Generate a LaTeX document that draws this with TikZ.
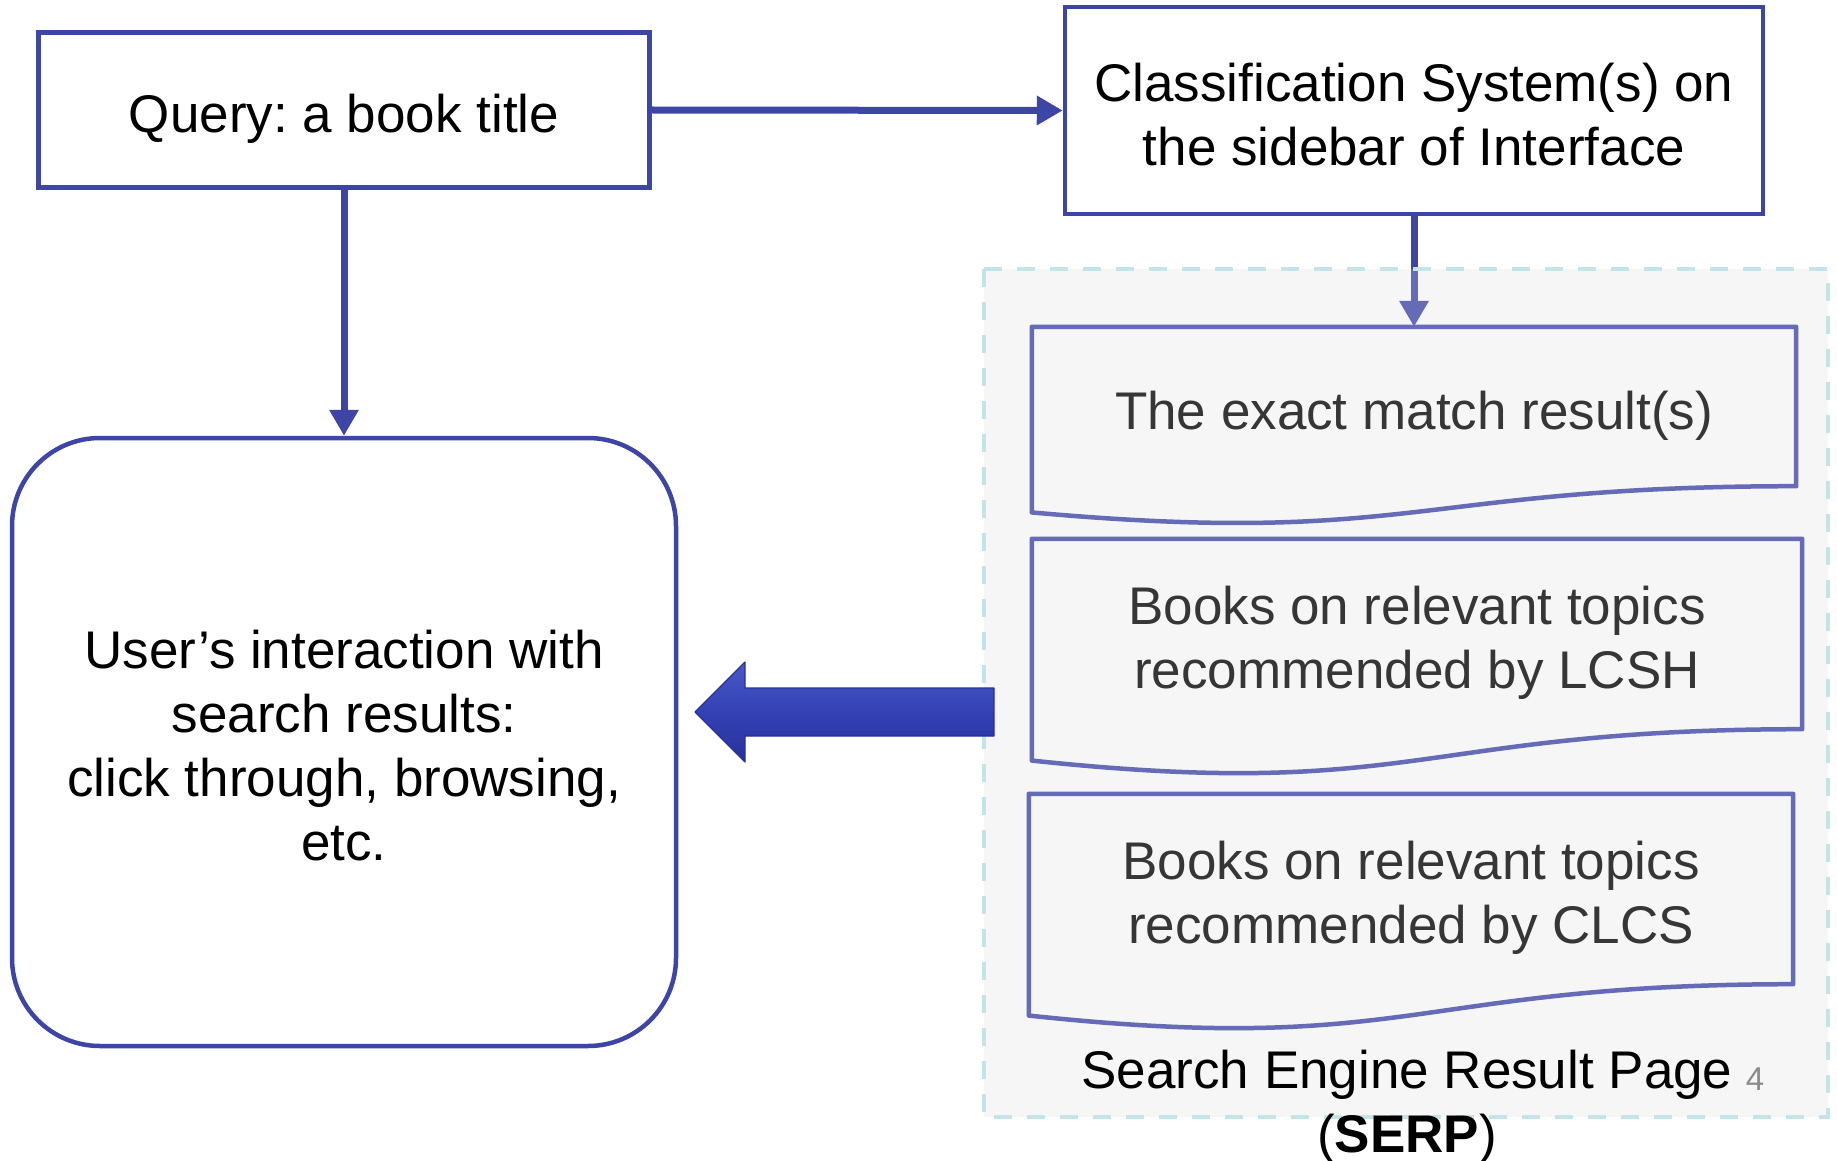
\documentclass[tikz,border=0pt]{standalone}
\usepackage{fontspec}
\setmainfont{Liberation Sans}
\usepackage{tikz}
\usetikzlibrary{calc,arrows.meta}
\frenchspacing

\definecolor{boxblue}{HTML}{3D45A6}
\definecolor{arrowlight}{HTML}{4A59C8}
\definecolor{arrowmid}{HTML}{3341B4}
\definecolor{arrowdark}{HTML}{26329A}
\definecolor{serpgray}{HTML}{F6F6F6}
\definecolor{serpdash}{HTML}{C3E4E8}
\definecolor{pagegray}{HTML}{8C8C8C}

% struts for first and last line of a text
\def\topstrut{\rule{0pt}{57.6pt}}
\def\botstrut{\rule[-12pt]{0pt}{0pt}}

\tikzset{
	bigfont/.style={font=\fontsize{53}{64}\selectfont, execute at begin node=\topstrut, execute at end node=\botstrut},
	flowbox/.style={draw=boxblue, line width=4.5pt, bigfont, align=center, inner sep=0pt},
	docbox/.style={bigfont, align=center, inner sep=0pt},
	docline/.style={draw=boxblue, line width=4.5pt, line join=round},
	link/.style={boxblue, line width=7pt, -{Triangle[length=26pt,width=28pt]}},
	bigarrow/.style={top color=arrowlight, bottom color=arrowdark, middle color=arrowmid, draw=arrowdark, line width=1.2pt, line join=round}
}

% document shape: node name : height of its straight part
\def\docwave(#1:#2){\draw[docline] (#1.north west) -- (#1.north east) -- (#1.south east) .. controls (#1.south) and ($(#1.south)+(0,{0.381*#2})$) .. ($(#1.south west)+(0,{0.165*#2})$) -- cycle;}

\begin{document}
\begin{tikzpicture}[x=1pt, y=-1pt]
		%%%%% START %%%%%
		\useasboundingbox (0,0) rectangle (1837,1161);
		
		\node[flowbox, minimum width=611, minimum height=155] (query) at (344,110) {Query: a book title};
		\node[flowbox, minimum width=698, minimum height=207] (class) at (1414,110.5) {\topstrut Classification System(s) on\\the sidebar of Interface};
		\node[flowbox, minimum width=664, minimum height=608, rounded corners=88] (user) at (344,742) {\topstrut User’s interaction with\\search results:\\click through, browsing,\\etc.};
		
		\draw[link] (query.east) -- (class.west);
		\draw[link] (query.south) -- (user.north);
		
		% result page
		\fill[serpgray] (984,269) rectangle (1828,1117);
		
		\node[docbox, minimum width=764, minimum height=159] (exact) at (1414,406.5) {The exact match result(s)};
		\node[docbox, minimum width=770, minimum height=190] (lcsh) at (1417,634) {\topstrut Books on relevant topics\\recommended by LCSH};
		\node[docbox, minimum width=764, minimum height=190] (clcs) at (1411,889) {\topstrut Books on relevant topics\\recommended by CLCS};
		\docwave(exact:159)
		\docwave(lcsh:190)
		\docwave(clcs:190)
		
		\draw[link] (class.south) -- (exact.north);
		
		\fill[serpgray, fill opacity=0.22] (984,269) rectangle (1828,1117);
		\draw[serpdash, line width=4pt, dash pattern=on 18pt off 15pt] (984,269) rectangle (1828,1117);
		
		\node[bigfont, align=center, inner sep=0pt] (serp) at (1407,1098) {\topstrut Search Engine Result Page\\(\textbf{SERP})};
		\node[font=\fontsize{33}{40}\selectfont, text=pagegray, inner sep=0pt] (page) at (1755,1079) {4};
		
		% back to the user
		\draw[bigarrow] (994,688) -- (745,688) -- (745,662) -- (695,712) -- (745,762) -- (745,736) -- (994,736) -- cycle;
		
		%%%%% END %%%%%
\end{tikzpicture}
\end{document}
